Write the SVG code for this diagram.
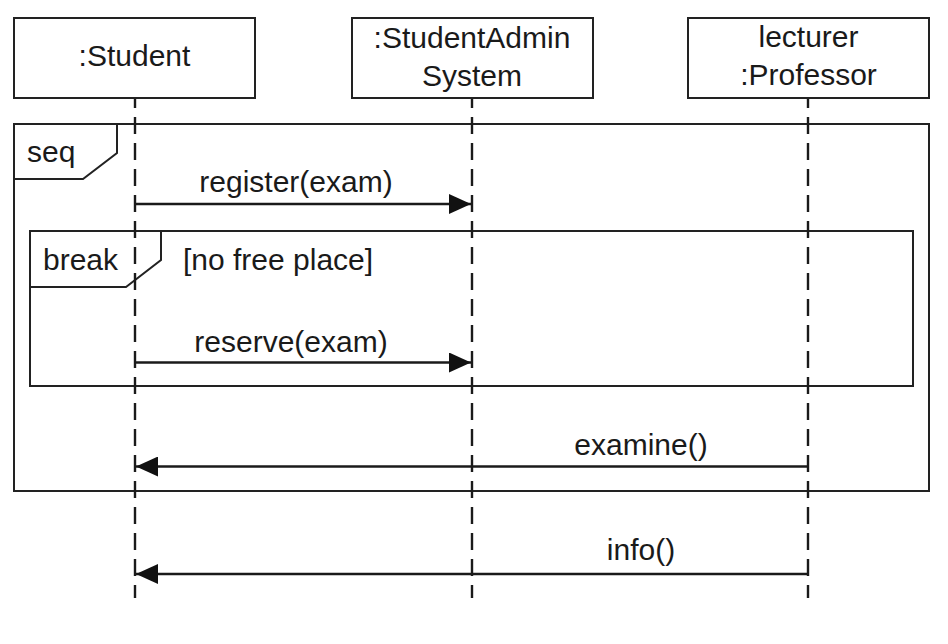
<svg xmlns="http://www.w3.org/2000/svg" width="948" height="644" viewBox="0 0 948 644">
<style>
text{font-family:"Liberation Sans",Arial,sans-serif;font-size:30px;fill:#1a1a1a}
.box{fill:#fff;stroke:#222;stroke-width:2}
.frame{fill:none;stroke:#222;stroke-width:2}
.life{stroke:#1a1a1a;stroke-width:2.4;stroke-dasharray:17 9;stroke-dashoffset:8;fill:none}
.msg{stroke:#1a1a1a;stroke-width:2.6;fill:none}
.c{text-anchor:middle}
</style>
<defs>
<marker id="arr" viewBox="0 0 22 20" refX="22" refY="10" markerWidth="22" markerHeight="20" markerUnits="userSpaceOnUse" orient="auto">
<path d="M0,0 L22,10 L0,20 Z" fill="#111"/>
</marker>
</defs>
<rect width="948" height="644" fill="#fff"/>
<g id="seq">
<rect class="frame" x="14" y="124" width="915" height="367"/>
<path class="frame" d="M14,179 H83 L117,153 V124"/>
<text x="27" y="162">seq</text>
</g>
<g id="break">
<rect class="frame" x="30" y="231" width="883" height="155"/>
<path class="frame" d="M30,287 H126 L161,260 V231"/>
<text x="43" y="270">break</text>
<text x="183" y="270">[no free place]</text>
</g>
<g id="student">
<rect class="box" x="14" y="18" width="241" height="80"/>
<text class="c" x="134.5" y="66">:Student</text>
<line class="life" x1="135" y1="99" x2="135" y2="598"/>
</g>
<g id="adminsystem">
<rect class="box" x="352" y="18" width="241" height="80"/>
<text class="c" x="472" y="48">:StudentAdmin</text>
<text class="c" x="472" y="86">System</text>
<line class="life" x1="472" y1="99" x2="472" y2="598"/>
</g>
<g id="professor">
<rect class="box" x="688" y="18" width="241" height="80"/>
<text class="c" x="808.5" y="47">lecturer</text>
<text class="c" x="808.5" y="85">:Professor</text>
<line class="life" x1="808" y1="99" x2="808" y2="598"/>
</g>
<g id="connectors">
<line class="msg" x1="135" y1="204" x2="471" y2="204" marker-end="url(#arr)"/>
<text class="c" x="296" y="192">register(exam)</text>
<line class="msg" x1="135" y1="362.5" x2="471" y2="362.5" marker-end="url(#arr)"/>
<text class="c" x="291" y="352">reserve(exam)</text>
<line class="msg" x1="808" y1="466.5" x2="136" y2="466.5" marker-end="url(#arr)"/>
<text class="c" x="641" y="455">examine()</text>
<line class="msg" x1="808" y1="574" x2="136" y2="574" marker-end="url(#arr)"/>
<text class="c" x="641" y="560">info()</text>
</g>
</svg>
